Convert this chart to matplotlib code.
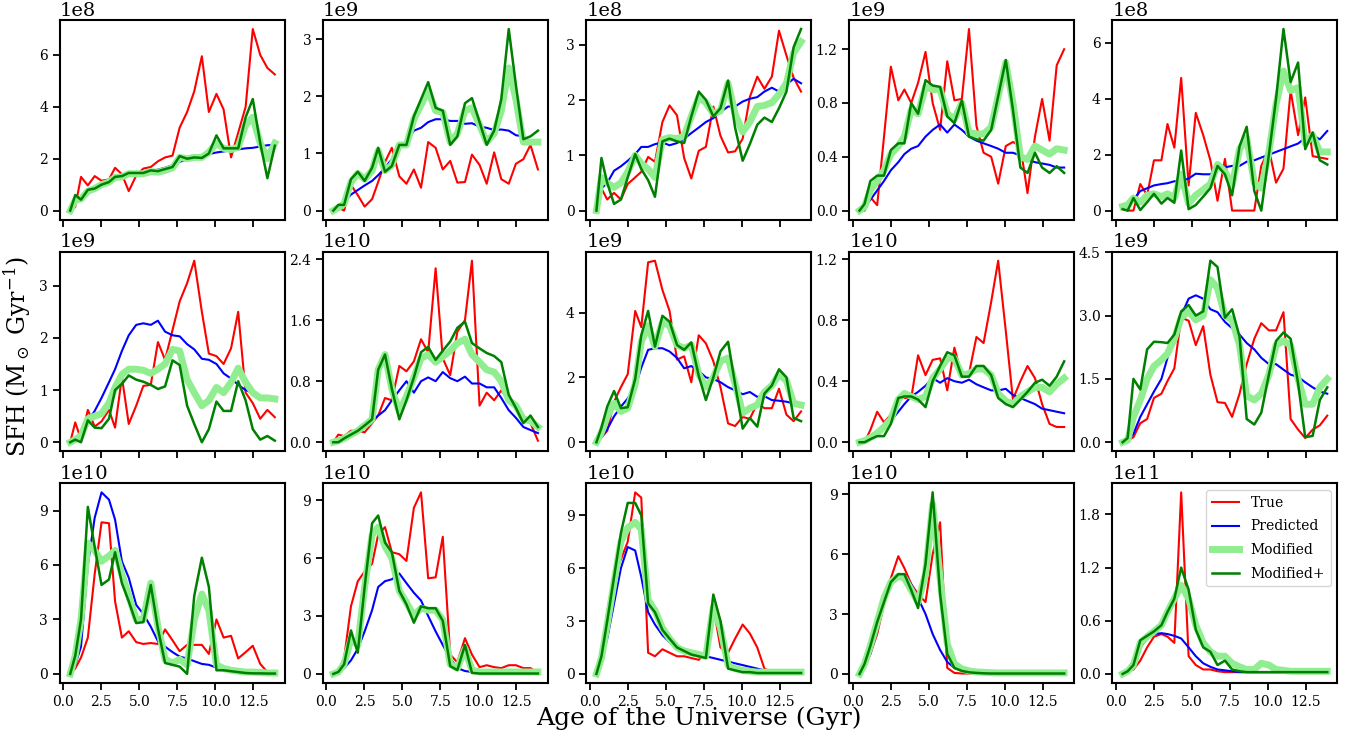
import matplotlib
matplotlib.use("Agg")
import matplotlib.pyplot as plt

plt.rcParams['font.family'] = ['DejaVu Serif']
plt.rcParams['mathtext.fontset'] = 'dejavuserif'

# cosmic age grid (Gyr)
age = [0.45, 0.78, 1.16, 1.61, 2.06, 2.51, 3.00, 3.40, 3.85, 4.30,
       4.79, 5.26, 5.75, 6.22, 6.69, 7.18, 7.65, 8.14, 8.61, 9.11,
       9.57, 10.07, 10.54, 11.03, 11.50, 11.99, 12.46, 12.95, 13.42, 13.91]

# ---------------- panel 1 (x1e8)
true_1 = [0, 0.14, 1.3, 0.97, 1.33, 1.15, 1.2, 1.65, 1.4, 0.75, 1.35, 1.62, 1.68, 1.9, 2.05, 2.12, 3.2, 3.8, 4.6, 5.95, 3.8, 4.5, 3.9, 2.05, 3.0, 4.0, 7.0, 6.0, 5.5, 5.25]
pred_1 = [0, 0.3, 0.55, 0.75, 0.9, 1.0, 1.1, 1.2, 1.3, 1.35, 1.4, 1.45, 1.5, 1.58, 1.65, 1.75, 1.88, 1.98, 2.05, 2.12, 2.18, 2.24, 2.28, 2.32, 2.36, 2.4, 2.42, 2.47, 2.52, 2.53]
mod_1 = [0, 0.4, 0.45, 0.75, 0.85, 1.0, 1.1, 1.28, 1.3, 1.42, 1.42, 1.42, 1.5, 1.48, 1.55, 1.65, 2.05, 2.0, 2.05, 2.05, 2.25, 2.6, 2.4, 2.35, 2.45, 3.3, 3.6, 2.6, 2.0, 2.6]
modp_1 = [0, 0.6, 0.42, 0.8, 0.85, 1.0, 1.1, 1.3, 1.33, 1.45, 1.45, 1.45, 1.55, 1.52, 1.6, 1.68, 2.1, 2.0, 2.05, 2.03, 2.2, 2.9, 2.4, 2.4, 2.4, 3.6, 4.3, 2.6, 1.25, 2.5]

# ---------------- panel 2 (x1e9)
true_2 = [0, 0.05, 0.0, 0.45, 0.27, 0.07, 0.2, 0.5, 0.85, 1.1, 0.6, 0.47, 0.72, 0.4, 1.2, 1.1, 0.72, 0.87, 0.49, 0.5, 0.98, 0.8, 0.47, 1.02, 0.55, 0.47, 0.82, 0.9, 1.15, 0.72]
pred_2 = [0, 0.07, 0.15, 0.28, 0.36, 0.44, 0.52, 0.62, 0.75, 0.9, 1.15, 1.2, 1.4, 1.45, 1.55, 1.6, 1.6, 1.57, 1.57, 1.52, 1.53, 1.47, 1.45, 1.41, 1.42, 1.4, 1.32, 1.3, 1.2, 1.22]
mod_2 = [0, 0.05, 0.12, 0.5, 0.65, 0.55, 0.7, 1.05, 0.7, 0.8, 1.15, 1.15, 1.6, 1.85, 2.1, 1.75, 1.72, 1.2, 1.35, 1.75, 1.8, 1.5, 1.2, 1.35, 1.75, 2.5, 1.95, 1.2, 1.2, 1.2]
modp_2 = [0, 0.1, 0.1, 0.55, 0.68, 0.52, 0.75, 1.1, 0.68, 0.78, 1.15, 1.15, 1.65, 1.95, 2.25, 1.8, 1.75, 1.15, 1.3, 1.88, 1.97, 1.55, 1.15, 1.4, 1.95, 3.18, 2.2, 1.25, 1.3, 1.4]

# ---------------- panel 3 (x1e8)
true_3 = [0, 0.4, 0.2, 0.32, 0.2, 0.48, 0.6, 0.7, 0.97, 0.88, 1.6, 1.9, 1.72, 0.95, 0.58, 1.08, 1.15, 1.88, 1.35, 1.05, 1.07, 1.3, 2.05, 2.42, 2.2, 2.42, 3.25, 2.8, 2.4, 2.15]
pred_3 = [0, 0.4, 0.5, 0.72, 0.8, 0.9, 1.02, 1.15, 1.15, 1.2, 1.23, 1.18, 1.22, 1.3, 1.4, 1.5, 1.6, 1.67, 1.78, 1.88, 1.88, 1.97, 2.02, 2.05, 2.15, 2.22, 2.15, 2.28, 2.38, 2.3]
mod_3 = [0, 0.6, 0.5, 0.42, 0.5, 0.7, 1.0, 0.85, 0.75, 0.6, 1.28, 1.32, 1.3, 1.35, 1.7, 2.05, 1.95, 1.75, 1.8, 2.3, 1.75, 1.42, 1.6, 1.88, 1.9, 1.95, 2.1, 2.3, 2.85, 3.05]
modp_3 = [0, 0.95, 0.5, 0.12, 0.2, 0.6, 1.02, 0.75, 0.55, 0.25, 1.25, 1.3, 1.25, 1.22, 1.7, 2.15, 2.0, 1.7, 1.85, 2.35, 1.5, 0.9, 1.2, 1.55, 1.68, 1.6, 1.85, 2.15, 2.95, 3.28]

# ---------------- panel 4 (x1e9)
true_4 = [0, 0, 0.1, 0.04, 0.55, 1.07, 0.82, 0.9, 0.8, 0.95, 1.18, 0.8, 0.6, 1.11, 0.82, 0.83, 1.35, 0.63, 0.43, 0.4, 0.2, 0.48, 0.51, 0.48, 0.13, 0.55, 0.83, 0.52, 1.08, 1.2]
pred_4 = [0, 0.03, 0.08, 0.15, 0.22, 0.3, 0.36, 0.42, 0.46, 0.48, 0.55, 0.6, 0.64, 0.58, 0.64, 0.6, 0.55, 0.52, 0.5, 0.48, 0.46, 0.43, 0.43, 0.41, 0.38, 0.36, 0.35, 0.34, 0.32, 0.32]
mod_4 = [0, 0.03, 0.15, 0.22, 0.3, 0.42, 0.48, 0.55, 0.75, 0.72, 0.92, 0.9, 0.9, 0.72, 0.68, 0.8, 0.58, 0.57, 0.57, 0.62, 0.85, 1.1, 0.8, 0.4, 0.38, 0.48, 0.45, 0.42, 0.46, 0.45]
modp_4 = [0, 0.05, 0.22, 0.26, 0.26, 0.45, 0.5, 0.5, 0.8, 0.72, 0.97, 0.93, 0.92, 0.7, 0.65, 0.82, 0.55, 0.53, 0.52, 0.6, 0.85, 1.12, 0.75, 0.32, 0.28, 0.43, 0.32, 0.28, 0.33, 0.28]

# ---------------- panel 5 (x1e8)
true_5 = [0.05, 0, 0, 0.95, 0.55, 1.8, 1.8, 3.1, 2.25, 4.75, 0.9, 3.5, 2.7, 1.8, 0.35, 1.85, 0.0, 0, 0, 0, 1.6, 2.2, 1.0, 1.5, 4.3, 2.7, 4.05, 1.95, 1.9, 1.85]
pred_5 = [0.15, 0.1, 0.4, 0.7, 0.8, 0.9, 0.95, 0.98, 1.05, 1.05, 1.15, 1.32, 1.3, 1.3, 1.5, 1.55, 1.6, 1.6, 1.75, 1.8, 1.9, 2.0, 2.1, 2.2, 2.3, 2.4, 2.6, 2.7, 2.55, 2.85]
mod_5 = [0.15, 0.2, 0.45, 0.3, 0.55, 0.6, 0.5, 0.6, 0.45, 1.3, 0.25, 0.55, 0.75, 0.95, 1.65, 1.4, 0.9, 2.2, 2.6, 1.0, 0.8, 2.1, 3.8, 5.0, 4.3, 4.4, 2.4, 2.7, 2.1, 2.1]
modp_5 = [0.05, 0.0, 0.45, 0.02, 0.3, 0.6, 0.25, 0.45, 0.28, 2.15, 0.05, 0.2, 0.5, 0.8, 1.6, 1.3, 0.55, 2.3, 3.0, 0.7, 0.0, 2.0, 4.0, 6.5, 4.6, 5.3, 2.2, 2.8, 1.8, 1.65]

# ---------------- panel 6 (x1e9)
true_6 = [0, 0.38, 0.05, 0.62, 0.3, 0.4, 0.62, 0.28, 1.25, 0.35, 0.7, 1.08, 1.1, 1.92, 1.58, 2.15, 2.7, 3.05, 3.48, 2.5, 1.7, 1.65, 1.5, 1.8, 2.5, 0.95, 0.75, 0.45, 0.62, 0.48]
pred_6 = [0, 0.05, 0.15, 0.4, 0.6, 0.85, 1.15, 1.4, 1.75, 2.05, 2.25, 2.28, 2.25, 2.33, 2.12, 2.05, 2.03, 1.88, 1.78, 1.6, 1.58, 1.5, 1.32, 1.22, 1.1, 1.0, 0.95, 0.85, 0.87, 0.83]
mod_6 = [0, 0.05, 0.12, 0.45, 0.5, 0.55, 0.75, 1.05, 1.3, 1.4, 1.4, 1.38, 1.32, 1.4, 1.5, 1.78, 1.75, 1.2, 0.95, 0.7, 0.8, 1.05, 0.95, 1.15, 1.42, 1.15, 0.95, 0.85, 0.85, 0.83]
modp_6 = [0, 0.05, 0.0, 0.42, 0.28, 0.27, 0.45, 1.0, 1.12, 1.28, 1.2, 1.16, 1.1, 1.02, 1.07, 1.57, 1.48, 0.7, 0.35, 0.0, 0.25, 0.78, 0.6, 0.6, 1.17, 0.8, 0.25, 0.05, 0.12, 0.03]

# ---------------- panel 7 (x1e10)
true_7 = [0, 0.1, 0.08, 0.15, 0.15, 0.13, 0.25, 0.35, 0.58, 0.55, 1.0, 0.93, 1.06, 1.35, 1.18, 2.28, 1.1, 0.88, 1.45, 1.6, 2.38, 0.48, 0.65, 0.55, 0.68, 0.55, 0.5, 0.35, 0.25, 0.02]
pred_7 = [0, 0.02, 0.05, 0.1, 0.15, 0.2, 0.28, 0.35, 0.42, 0.55, 0.68, 0.8, 0.65, 0.8, 0.85, 0.8, 0.92, 0.84, 0.8, 0.86, 0.77, 0.77, 0.72, 0.72, 0.58, 0.42, 0.32, 0.2, 0.16, 0.12]
mod_7 = [0, 0.02, 0.05, 0.1, 0.15, 0.22, 0.3, 0.95, 1.15, 0.7, 0.4, 0.6, 0.85, 1.1, 1.15, 1.05, 1.12, 1.2, 1.3, 1.35, 1.15, 1.05, 0.95, 0.92, 0.8, 0.55, 0.48, 0.3, 0.28, 0.2]
modp_7 = [0, 0.0, 0.05, 0.1, 0.15, 0.22, 0.3, 0.95, 1.15, 0.7, 0.3, 0.55, 0.85, 1.18, 1.25, 1.08, 1.2, 1.32, 1.5, 1.58, 1.3, 1.23, 1.17, 1.13, 1.05, 0.62, 0.45, 0.25, 0.35, 0.2]

# ---------------- panel 8 (x1e9)
true_8 = [0, 0.15, 0.35, 1.25, 1.7, 2.1, 4.05, 3.55, 5.55, 5.6, 4.7, 4.05, 2.55, 2.65, 1.85, 3.3, 3.05, 2.5, 1.7, 0.58, 0.5, 0.78, 0.72, 1.2, 1.05, 1.05, 1.65, 0.85, 0.65, 0.95]
pred_8 = [0, 0.15, 0.4, 0.8, 1.1, 1.35, 1.7, 2.3, 2.85, 2.9, 2.9, 2.8, 2.6, 2.28, 2.35, 2.2, 2.0, 1.95, 1.85, 1.7, 1.6, 1.48, 1.55, 1.4, 1.42, 1.3, 1.28, 1.25, 1.2, 1.15]
mod_8 = [0, 0.3, 0.8, 1.2, 0.95, 1.05, 1.8, 3.1, 3.6, 2.95, 3.7, 3.6, 3.0, 2.9, 3.0, 2.1, 1.7, 2.0, 2.5, 2.6, 1.8, 0.9, 1.05, 1.15, 1.55, 1.75, 2.1, 1.9, 1.2, 1.15]
modp_8 = [0, 0.45, 1.1, 1.58, 1.05, 1.08, 1.95, 3.3, 4.05, 2.95, 3.9, 3.72, 3.0, 2.85, 3.08, 2.05, 1.3, 2.0, 2.8, 3.1, 1.8, 0.42, 0.75, 0.48, 1.5, 1.75, 2.25, 2.0, 0.75, 0.65]

# ---------------- panel 9 (x1e10)
true_9 = [0, 0.0, 0.08, 0.2, 0.13, 0.18, 0.29, 0.29, 0.29, 0.57, 0.44, 0.54, 0.55, 0.34, 0.62, 0.44, 0.45, 0.69, 0.65, 0.92, 1.19, 0.73, 0.28, 0.4, 0.5, 0.42, 0.25, 0.12, 0.1, 0.1]
pred_9 = [0, 0.01, 0.03, 0.06, 0.1, 0.14, 0.2, 0.25, 0.3, 0.33, 0.37, 0.42, 0.39, 0.42, 0.4, 0.39, 0.41, 0.38, 0.36, 0.34, 0.34, 0.35, 0.31, 0.29, 0.27, 0.25, 0.22, 0.21, 0.2, 0.19]
mod_9 = [0, 0.01, 0.03, 0.06, 0.1, 0.15, 0.28, 0.32, 0.3, 0.28, 0.3, 0.42, 0.48, 0.55, 0.55, 0.44, 0.45, 0.48, 0.48, 0.44, 0.32, 0.27, 0.25, 0.3, 0.33, 0.36, 0.36, 0.33, 0.38, 0.42]
modp_9 = [0, 0.0, 0.02, 0.04, 0.04, 0.12, 0.29, 0.3, 0.3, 0.28, 0.23, 0.4, 0.5, 0.59, 0.57, 0.43, 0.43, 0.5, 0.5, 0.44, 0.29, 0.25, 0.23, 0.28, 0.33, 0.39, 0.41, 0.37, 0.43, 0.53]

# ---------------- panel 10 (x1e9)
true_10 = [0, 0.05, 0.12, 0.45, 0.55, 1.05, 1.15, 1.45, 1.75, 2.95, 2.88, 2.3, 2.75, 1.6, 0.95, 0.93, 0.6, 1.15, 1.85, 2.45, 2.82, 2.65, 2.65, 3.08, 0.55, 0.3, 0.1, 0.3, 0.4, 0.63]
pred_10 = [0, 0.05, 0.2, 0.6, 0.9, 1.2, 1.5, 2.0, 2.5, 3.0, 3.4, 3.48, 3.4, 3.15, 3.08, 2.85, 2.7, 2.55, 2.35, 2.2, 2.0, 1.85, 1.85, 1.72, 1.6, 1.55, 1.42, 1.3, 1.2, 1.15]
mod_10 = [0, 0.05, 0.6, 1.0, 1.5, 1.8, 1.95, 2.1, 2.45, 2.95, 3.1, 2.9, 3.0, 3.85, 3.65, 3.0, 2.9, 2.3, 1.1, 1.0, 1.15, 1.6, 2.3, 2.4, 2.3, 1.5, 0.9, 0.9, 1.3, 1.5]
modp_10 = [0, 0.1, 1.5, 1.25, 2.2, 2.38, 2.37, 2.35, 2.55, 3.1, 3.25, 3.0, 3.1, 4.3, 4.15, 2.95, 3.15, 2.5, 0.55, 0.42, 0.7, 1.6, 2.4, 2.6, 2.45, 1.4, 0.12, 0.15, 1.0, 1.3]

# ---------------- panel 11 (x1e10)
true_11 = [0, 0.3, 0.9, 2.0, 5.5, 8.35, 8.3, 4.0, 2.0, 2.35, 1.75, 1.65, 1.7, 1.65, 2.45, 1.85, 1.25, 1.6, 1.6, 1.6, 1.1, 3.0, 2.0, 2.1, 0.85, 1.2, 1.55, 0.55, 0.1, 0.05]
pred_11 = [0, 0.5, 1.5, 6.0, 8.6, 10.0, 9.6, 8.5, 6.2, 5.3, 3.8, 3.3, 2.6, 1.8, 1.5, 1.2, 0.95, 0.85, 0.7, 0.55, 0.5, 0.35, 0.25, 0.15, 0.1, 0.05, 0.05, 0.03, 0.02, 0.02]
mod_11 = [0, 1.0, 3.0, 7.2, 6.8, 6.2, 6.5, 6.8, 5.5, 4.3, 3.0, 3.0, 5.0, 2.6, 0.8, 0.6, 0.8, 0.5, 3.0, 4.4, 3.5, 0.5, 0.3, 0.2, 0.15, 0.1, 0.1, 0.08, 0.05, 0.05]
modp_11 = [0, 1.0, 3.0, 9.2, 7.0, 4.9, 5.2, 6.7, 5.0, 4.0, 2.8, 2.85, 4.9, 2.5, 0.6, 0.5, 0.4, 0.0, 4.3, 6.4, 4.8, 0.2, 0.2, 0.15, 0.1, 0.05, 0.03, 0.03, 0.02, 0.02]

# ---------------- panel 12 (x1e10)
true_12 = [0, 0.2, 0.8, 3.5, 4.8, 5.3, 5.7, 7.2, 7.6, 6.3, 6.2, 5.85, 8.6, 9.4, 4.95, 5.0, 7.1, 1.0, 0.6, 1.85, 1.0, 0.35, 0.45, 0.35, 0.3, 0.45, 0.45, 0.3, 0.3, 0.05]
pred_12 = [0, 0.1, 0.3, 0.7, 1.3, 2.2, 3.3, 4.5, 4.8, 4.9, 5.2, 4.7, 4.2, 3.8, 3.0, 2.2, 1.5, 0.8, 0.3, 0.15, 0.1, 0.05, 0.03, 0.02, 0.02, 0.02, 0.02, 0.02, 0.02, 0.02]
mod_12 = [0, 0.1, 0.5, 1.8, 1.5, 4.5, 7.2, 7.6, 6.6, 6.0, 4.3, 3.7, 3.0, 3.4, 3.3, 3.3, 2.8, 0.5, 0.3, 1.3, 0.2, 0.1, 0.1, 0.1, 0.1, 0.1, 0.1, 0.1, 0.1, 0.1]
modp_12 = [0, 0.1, 0.5, 2.25, 1.1, 4.5, 7.8, 8.2, 6.8, 6.3, 4.3, 3.6, 2.65, 3.5, 3.4, 3.4, 2.75, 0.4, 0.2, 1.5, 0.05, 0.02, 0.02, 0.02, 0.02, 0.02, 0.02, 0.02, 0.02, 0.02]

# ---------------- panel 13 (x1e10)
true_13 = [0, 1.2, 3.5, 5.5, 6.5, 7.5, 10.3, 10.0, 1.2, 1.0, 1.4, 1.2, 1.0, 1.0, 0.9, 0.8, 1.2, 3.8, 1.5, 1.2, 2.0, 2.8, 2.3, 1.5, 0.3, 0.1, 0.05, 0.02, 0.02, 0.02]
pred_13 = [0, 0.8, 2.0, 4.0, 6.0, 7.2, 7.0, 5.5, 3.5, 2.8, 2.2, 1.8, 1.5, 1.3, 1.2, 1.1, 1.0, 0.9, 0.8, 0.7, 0.6, 0.5, 0.4, 0.3, 0.2, 0.15, 0.1, 0.05, 0.05, 0.05]
mod_13 = [0, 0.9, 2.8, 5.2, 7.5, 8.3, 8.6, 8.2, 4.2, 3.6, 2.6, 2.0, 1.5, 1.3, 1.2, 1.1, 1.0, 3.8, 2.6, 0.5, 0.3, 0.2, 0.15, 0.1, 0.1, 0.1, 0.1, 0.1, 0.1, 0.1]
modp_13 = [0, 1.0, 3.0, 5.5, 8.0, 9.7, 9.7, 9.0, 4.0, 3.5, 2.5, 2.0, 1.5, 1.3, 1.1, 1.0, 0.9, 4.5, 3.0, 0.3, 0.2, 0.1, 0.1, 0.05, 0.05, 0.05, 0.05, 0.05, 0.05, 0.05]

# ---------------- panel 14 (x1e10)
true_14 = [0, 0.3, 1.0, 2.0, 3.5, 4.8, 5.9, 5.3, 4.5, 4.0, 3.6, 6.0, 7.6, 0.3, 0.05, 0.02, 0.02, 0.02, 0.02, 0.02, 0.02, 0.02, 0.02, 0.02, 0.02, 0.02, 0.02, 0.02, 0.02, 0.02]
pred_14 = [0, 0.4, 1.0, 2.2, 3.8, 4.6, 4.95, 5.0, 4.5, 3.8, 3.0, 2.0, 1.2, 0.6, 0.3, 0.15, 0.08, 0.05, 0.03, 0.02, 0.02, 0.02, 0.02, 0.02, 0.02, 0.02, 0.02, 0.02, 0.02, 0.02]
mod_14 = [0, 0.5, 1.4, 2.6, 3.8, 4.6, 4.9, 4.8, 4.2, 3.6, 5.0, 8.5, 4.8, 1.5, 0.5, 0.25, 0.15, 0.1, 0.08, 0.06, 0.05, 0.05, 0.05, 0.05, 0.05, 0.05, 0.05, 0.05, 0.05, 0.05]
modp_14 = [0, 0.5, 1.4, 2.6, 3.6, 4.6, 5.0, 5.0, 4.2, 3.3, 5.5, 9.1, 4.0, 1.0, 0.3, 0.15, 0.08, 0.05, 0.03, 0.02, 0.02, 0.02, 0.02, 0.02, 0.02, 0.02, 0.02, 0.02, 0.02, 0.02]

# ---------------- panel 15 (x1e11)
true_15 = [0, 0.02, 0.05, 0.15, 0.3, 0.42, 0.45, 0.42, 0.35, 2.05, 0.2, 0.1, 0.05, 0.05, 0.03, 0.02, 0.02, 0.02, 0.02, 0.02, 0.02, 0.02, 0.02, 0.02, 0.02, 0.02, 0.02, 0.02, 0.02, 0.02]
pred_15 = [0, 0.05, 0.15, 0.3, 0.4, 0.45, 0.46, 0.45, 0.43, 0.4, 0.3, 0.2, 0.12, 0.08, 0.05, 0.04, 0.03, 0.02, 0.02, 0.02, 0.02, 0.02, 0.02, 0.02, 0.02, 0.02, 0.02, 0.02, 0.02, 0.02]
mod_15 = [0, 0.03, 0.1, 0.35, 0.42, 0.48, 0.55, 0.7, 0.85, 1.0, 0.85, 0.55, 0.35, 0.25, 0.2, 0.2, 0.12, 0.08, 0.05, 0.05, 0.12, 0.1, 0.05, 0.04, 0.03, 0.03, 0.03, 0.03, 0.03, 0.03]
modp_15 = [0, 0.03, 0.1, 0.38, 0.43, 0.48, 0.55, 0.7, 0.85, 1.2, 0.95, 0.5, 0.3, 0.25, 0.1, 0.15, 0.05, 0.03, 0.02, 0.02, 0.02, 0.02, 0.02, 0.02, 0.02, 0.02, 0.02, 0.02, 0.02, 0.02]

exponents = [8, 9, 8, 9, 8, 9, 10, 9, 10, 9, 10, 10, 10, 10, 11]
yticks = [[0, 2, 4, 6], [0, 1, 2, 3], [0, 1, 2, 3], [0, 0.4, 0.8, 1.2], [0, 2, 4, 6],
          [0, 1, 2, 3], [0, 0.8, 1.6, 2.4], [0, 2, 4], [0, 0.4, 0.8, 1.2], [0, 1.5, 3.0, 4.5],
          [0, 3, 6, 9], [0, 3, 6, 9], [0, 3, 6, 9], [0, 3, 6, 9], [0, 0.6, 1.2, 1.8]]
xticks = [0, 2.5, 5.0, 7.5, 10.0, 12.5]
labels = ['True', 'Predicted', 'Modified', 'Modified+']

g = globals()
fig, axes = plt.subplots(3, 5, figsize=(13.51, 7.39), dpi=100, sharex=True)
plt.subplots_adjust(left=0.0444, right=0.990, top=0.973, bottom=0.0758,
                    wspace=0.169, hspace=0.16)

for i, ax in enumerate(axes.flat):
    k = i + 1
    s = 10.0 ** exponents[i]
    tr = [v * s for v in g['true_%d' % k]]
    pr = [v * s for v in g['pred_%d' % k]]
    md = [v * s for v in g['mod_%d' % k]]
    mp = [v * s for v in g['modp_%d' % k]]
    ax.plot(age, tr, color='red', lw=1.5, label=labels[0])
    ax.plot(age, pr, color='blue', lw=1.5, label=labels[1])
    ax.plot(age, md, color='lightgreen', lw=5, label=labels[2])
    ax.plot(age, mp, color='green', lw=1.8, label=labels[3])
    ax.set_yticks([t * s for t in yticks[i]])
    ax.set_xticks(xticks)
    ax.tick_params(direction='out', length=5, width=1.3, labelsize=10)
    ax.yaxis.get_offset_text().set_fontsize(14)
    for sp in ax.spines.values():
        sp.set_linewidth(1.5)

axes[2, 4].legend(loc='upper right', fontsize=10, handlelength=2.0, labelspacing=0.7)

fig.text(0.013, 0.518, 'SFH (M$_\\odot$ Gyr$^{-1}$)', rotation=90, va='center', ha='center', fontsize=17)
fig.text(0.517, 0.028, 'Age of the Universe (Gyr)', va='center', ha='center', fontsize=18)

fig.savefig('out.png', dpi=100)
